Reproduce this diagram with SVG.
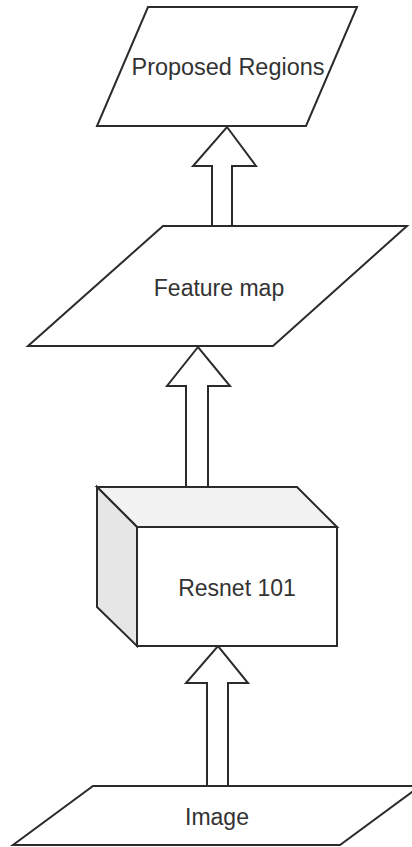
<svg xmlns="http://www.w3.org/2000/svg" width="412" height="847" viewBox="0 0 412 847">
  <style>
    .shape { fill: #ffffff; stroke: #2b2b2b; stroke-width: 2; stroke-linejoin: miter; }
    .arrow { fill: #ffffff; stroke: #2b2b2b; stroke-width: 2; stroke-linejoin: miter; }
    .label { font-family: "Liberation Sans", Arial, sans-serif; font-size: 23px; fill: #333333; text-anchor: middle; }
  </style>
  <rect width="412" height="847" fill="#ffffff"/>

  <!-- block arrows between stages -->
  <g id="connectors">
    <polygon class="arrow" points="212,227 212,166 193,166 227,127 256,166 232,166 232,227"/>
    <polygon class="arrow" points="186,487 186,386 167,386 198,347 230,386 208,386 208,487"/>
    <polygon class="arrow" points="207,786 207,683 186,683 218,646 248,683 228,683 228,786"/>
  </g>

  <g id="proposed-regions">
    <polygon class="shape" points="148,7 357,7 306,126 97,126"/>
    <text class="label" x="228" y="75" textLength="193" lengthAdjust="spacingAndGlyphs">Proposed Regions</text>
  </g>

  <g id="feature-map">
    <polygon class="shape" points="163,226 407,226 273,346 28,346"/>
    <text class="label" x="219" y="296">Feature map</text>
  </g>

  <g id="resnet-101">
    <!-- top face -->
    <polygon class="shape" style="fill:#f2f2f2" points="97,487 297,487 337,527 137,527"/>
    <!-- left face -->
    <polygon class="shape" style="fill:#e6e6e6" points="97,487 137,527 137,646 97,607"/>
    <!-- front face -->
    <rect class="shape" x="137" y="527" width="200" height="119"/>
    <text class="label" x="237" y="596">Resnet 101</text>
  </g>

  <g id="image">
    <polygon class="shape" points="93,786 420,786 340,845 13,845"/>
    <text class="label" x="217" y="825">Image</text>
  </g>
</svg>
